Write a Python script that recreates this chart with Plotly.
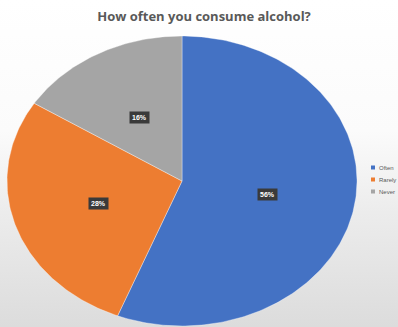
import numpy as np
import plotly.graph_objects as go

# Survey answers
categories = ["Often", "Rarely", "Never"]
shares = [56, 28, 16]  # percent of respondents
colors = ["#4472C4", "#ED7D31", "#A5A5A5"]
title_text = "How often you consume alcohol?"

W, H = 398, 327
fig = go.Figure()

# soft vertical backdrop (white at top fading to light grey)
fig.add_trace(go.Scatter(
    x=[0, 1, 1, 0, 0], y=[0, 0, 1, 1, 0], mode="none", fill="toself",
    fillgradient=dict(type="vertical",
                      colorscale=[[0, "#dcdcdc"], [0.35, "#ececec"], [0.6, "#fbfbfb"], [1, "#ffffff"]]),
    hoverinfo="skip", showlegend=False, xaxis="x", yaxis="y"))

# pie slices, clockwise from 12 o'clock, drawn on a unit circle
total = float(sum(shares))
start = 0.0
label_pos = []
for cat, val, col in zip(categories, shares, colors):
    frac = val / total
    t = np.linspace(start, start + frac, max(int(frac * 400), 8)) * 2 * np.pi
    xs = np.concatenate([[0], np.sin(t), [0]])
    ys = np.concatenate([[0], np.cos(t), [0]])
    fig.add_trace(go.Scatter(
        x=xs, y=ys, mode="lines", fill="toself", fillcolor=col,
        line=dict(color="rgba(255,255,255,0.6)", width=0.6),
        name=cat, hoverinfo="name", showlegend=False, xaxis="x2", yaxis="y2"))
    mid = (start + frac / 2) * 2 * np.pi
    label_pos.append((0.5 * np.sin(mid), 0.5 * np.cos(mid), val))
    start += frac

annotations = []
for lx, ly, val in label_pos:
    annotations.append(dict(
        x=lx, y=ly, xref="x2", yref="y2", text=f"<b>{val}%</b>", showarrow=False,
        font=dict(family="Liberation Sans", size=7, color="white"),
        bgcolor="#3a3a3a", borderpad=2))

# legend entries at the right edge
shapes = []
for i, (cat, col) in enumerate(zip(categories, colors)):
    yc = 167.5 + i * 12
    shapes.append(dict(type="rect", xref="paper", yref="paper",
                       x0=371 / W, x1=375 / W, y0=1 - (yc + 2) / H, y1=1 - (yc - 2) / H,
                       fillcolor=col, line=dict(width=0)))
    annotations.append(dict(
        x=377 / W, y=1 - yc / H, xref="paper", yref="paper", text=cat,
        xanchor="left", yanchor="middle", showarrow=False,
        font=dict(family="Liberation Sans", size=6, color="#595959")))

fig.update_layout(
    width=W, height=H,
    margin=dict(l=0, r=0, t=0, b=0, autoexpand=False),
    paper_bgcolor="white", plot_bgcolor="rgba(0,0,0,0)",
    showlegend=False,
    title=dict(text=title_text, x=204 / W, xanchor="center",
               y=1 - 16 / H, yanchor="middle", yref="container",
               font=dict(family="Open Sans", size=13, color="#595959", weight=700)),
    xaxis=dict(domain=[0, 1], range=[0, 1], visible=False, fixedrange=True),
    yaxis=dict(domain=[0, 1], range=[0, 1], visible=False, fixedrange=True),
    xaxis2=dict(domain=[7 / W, 357 / W], range=[-1, 1], visible=False, fixedrange=True),
    yaxis2=dict(domain=[1 - 326 / H, 1 - 36 / H], range=[-1, 1], visible=False, fixedrange=True),
    annotations=annotations,
    shapes=shapes,
)

fig.write_html("out.html")
